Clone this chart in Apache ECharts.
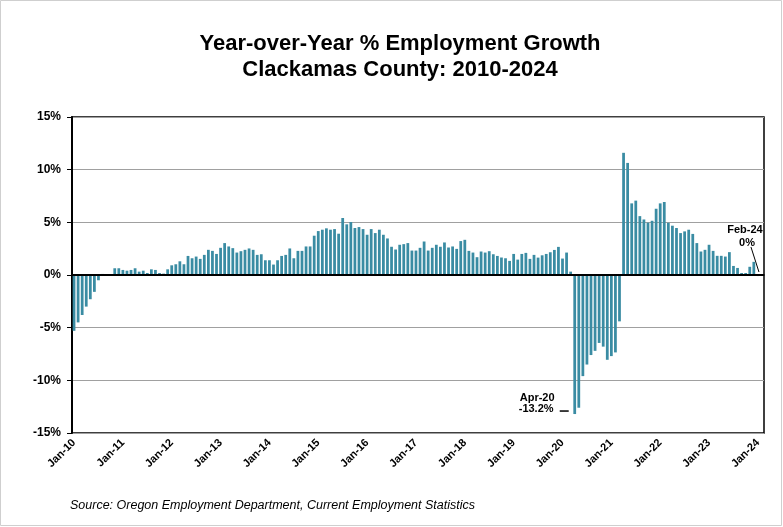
<!DOCTYPE html>
<html><head><meta charset="utf-8">
<script src="https://cdn.jsdelivr.net/npm/echarts@6/dist/echarts.min.js"></script>
<style>html,body{margin:0;padding:0;background:#fff}#c{width:783px;height:527px}</style>
</head><body><div id="c"></div>
<script>
// Monthly categories Jan-10 .. Feb-24
const months = ['Jan','Feb','Mar','Apr','May','Jun','Jul','Aug','Sep','Oct','Nov','Dec'];
const categories = [];
for (let y = 10; y <= 24; y++) {
  for (let m = 0; m < 12; m++) {
    if (y === 24 && m > 1) break;
    categories.push(months[m] + '-' + y);
  }
}
// Year-over-year % employment growth
const growth2010 = [-5.3,-4.5,-3.8,-3.0,-2.3,-1.6,-0.5,0.1,0.0,0.05,0.64,0.64];
const growth2011 = [0.48,0.41,0.48,0.64,0.32,0.41,0.19,0.54,0.48,0.19,0.13,0.54];
const growth2012 = [0.92,1.02,1.3,1.02,1.81,1.59,1.75,1.53,1.91,2.39,2.29,2.0];
const growth2013 = [2.58,3.03,2.71,2.55,2.13,2.26,2.39,2.52,2.39,1.91,1.97,1.4];
const growth2014 = [1.4,0.99,1.4,1.81,1.91,2.52,1.59,2.29,2.29,2.71,2.71,3.73];
const growth2015 = [4.17,4.3,4.43,4.3,4.36,3.92,5.41,4.81,5.03,4.46,4.55,4.36];
const growth2016 = [3.82,4.36,3.98,4.3,3.82,3.47,2.68,2.42,2.87,2.93,3.03,2.32];
const growth2017 = [2.32,2.58,3.18,2.32,2.58,2.87,2.68,3.09,2.61,2.71,2.48,3.22];
const growth2018 = [3.34,2.29,2.13,1.69,2.23,2.13,2.26,1.97,1.81,1.66,1.59,1.34];
const growth2019 = [2.0,1.46,2.0,2.1,1.53,1.91,1.65,1.87,2.0,2.16,2.38,2.67];
const growth2020 = [1.56,2.13,0.32,-13.2,-12.6,-9.6,-8.5,-7.6,-7.2,-6.45,-6.8,-8.05];
const growth2021 = [-7.7,-7.35,-4.4,11.6,10.64,6.8,7.06,5.59,5.27,4.97,5.15,6.29];
const growth2022 = [6.8,6.93,4.96,4.68,4.46,3.98,4.14,4.3,3.9,3.03,2.23,2.39];
const growth2023 = [2.87,2.29,1.82,1.82,1.75,2.17,0.86,0.67,0.19,0.19,0.78,1.25];
const growth2024 = [-0.1,0.0];
const values = [].concat(growth2010,growth2011,growth2012,growth2013,growth2014,growth2015,
  growth2016,growth2017,growth2018,growth2019,growth2020,growth2021,growth2022,growth2023,growth2024);
const yTicks = {min:-15, max:15, interval:5};

const FONT = '"Liberation Sans", Arial, sans-serif';
const chart = echarts.init(document.getElementById('c'), null, {renderer:'canvas'});
const option = {
  animation: false,
  backgroundColor: '#fff',
  grid: {left:72, right:19, top:117, bottom:94, show:true, borderColor:'#000', borderWidth:1.5, backgroundColor:'transparent'},
  xAxis: {
    type:'category', data: categories, boundaryGap:true,
    axisLine:{show:true, lineStyle:{color:'#000', width:1.5}},
    axisTick:{show:false},
    axisLabel:{interval:11, rotate:45, margin:8, color:'#000', fontWeight:'bold', fontSize:11, fontFamily:FONT},
    splitLine:{show:false}
  },
  yAxis: {
    type:'value', min:yTicks.min, max:yTicks.max, interval:yTicks.interval,
    axisLine:{show:true, lineStyle:{color:'#000', width:2}},
    axisTick:{show:true, inside:false, length:5, lineStyle:{color:'#000', width:1}},
    axisLabel:{formatter:'{value}%', margin:11, color:'#000', fontWeight:'bold', fontSize:12, fontFamily:FONT},
    splitLine:{show:true, lineStyle:{color:'#a0a0a0', width:1.2}}
  },
  series: [{
    type:'bar', data: values, barWidth:'68%',
    itemStyle:{color:'#3a8ca3'},
    markLine:{silent:true, symbol:'none', label:{show:false},
      lineStyle:{color:'#000', width:2.2, type:'solid'}, data:[{yAxis:0}]}
  }]
};
chart.setOption(option);

const apr = chart.convertToPixel({xAxisIndex:0, yAxisIndex:0}, ['Apr-20', -13.2]);
const feb = chart.convertToPixel({xAxisIndex:0, yAxisIndex:0}, ['Feb-24', 0]);
const bold11 = 'bold 11px ' + FONT;
chart.setOption({
  graphic: [
    {type:'text', x:400, y:44, style:{text:'Year-over-Year % Employment Growth', font:'bold 22px '+FONT, fill:'#000', textAlign:'center', textVerticalAlign:'middle'}},
    {type:'text', x:400, y:70, style:{text:'Clackamas County: 2010-2024', font:'bold 22px '+FONT, fill:'#000', textAlign:'center', textVerticalAlign:'middle'}},
    {type:'text', x:70, y:506, style:{text:'Source: Oregon Employment Department, Current Employment Statistics', font:'italic 12.5px '+FONT, fill:'#000', textAlign:'left', textVerticalAlign:'middle'}},
    {type:'text', x:apr[0]-55, y:apr[1]-16, style:{text:'Apr-20', font:bold11, fill:'#000', textAlign:'left', textVerticalAlign:'middle'}},
    {type:'text', x:apr[0]-56, y:apr[1]-5, style:{text:'-13.2%', font:bold11, fill:'#000', textAlign:'left', textVerticalAlign:'middle'}},
    {type:'line', shape:{x1:apr[0]-15, y1:apr[1]-3, x2:apr[0]-6, y2:apr[1]-3}, style:{stroke:'#000', lineWidth:1.5}},
    {type:'text', x:feb[0]-17, y:feb[1]-45, style:{text:'Feb-24', font:bold11, fill:'#000', textAlign:'center', textVerticalAlign:'middle'}},
    {type:'text', x:feb[0]-15, y:feb[1]-32, style:{text:'0%', font:bold11, fill:'#000', textAlign:'center', textVerticalAlign:'middle'}},
    {type:'line', shape:{x1:feb[0]-11, y1:feb[1]-28, x2:feb[0]-3, y2:feb[1]-3}, style:{stroke:'#000', lineWidth:1}},
    {type:'rect', shape:{x:0.5, y:0.5, width:781, height:525}, style:{fill:'none', stroke:'#cfcfcf', lineWidth:1}, silent:true}
  ]
});
</script></body></html>
